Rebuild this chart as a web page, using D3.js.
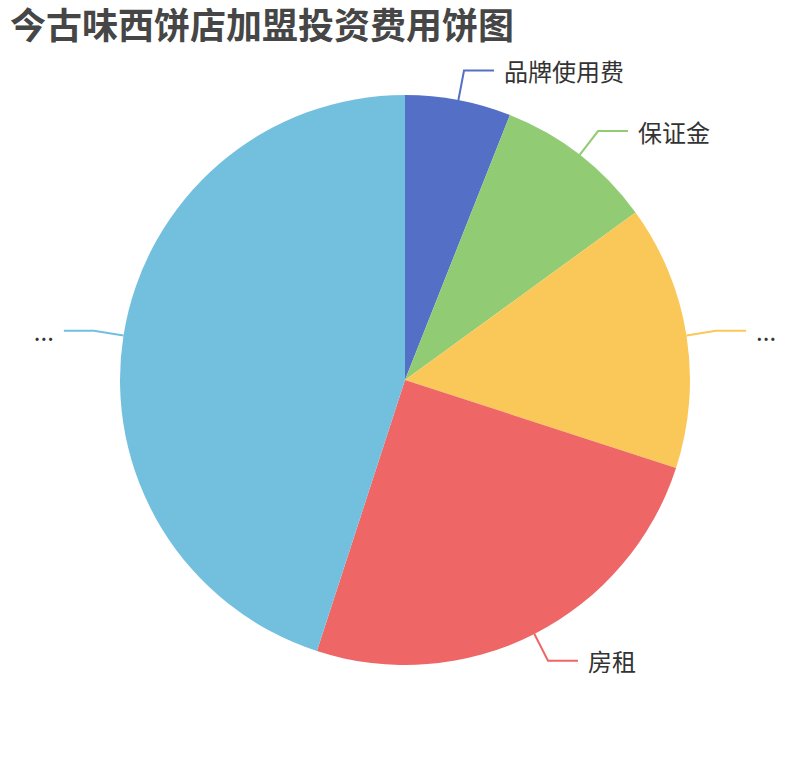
<!DOCTYPE html>
<html>
<meta charset="utf-8">
<head>
  <title>今古味西饼店加盟投资费用饼图</title>
</head>

<style>
body {
  margin: 0;
  background: #fff;
}
text {
  font-family: "Noto Sans CJK SC", "Noto Sans", sans-serif;
}
.title {
  font-size: 36px;
  font-weight: bold;
  fill: #464646;
}
.label {
  font-size: 24px;
  fill: #333;
}
</style>

<body>
  <div id="content">
    <svg width="810" height="760">
      <g class="slices"></g>
      <g class="lines"></g>
      <g class="labels"></g>
    </svg>
  </div>

  <script src="https://cdnjs.cloudflare.com/ajax/libs/d3/7.8.5/d3.min.js"></script>

  <script>
var width = 810, height = 760
var radius = Math.min(width, height) / 2 * 0.75

// data (shares of the total)
var categories = ['品牌使用费', '保证金', '...', '房租', '...']
var values = [6, 9, 15, 25, 45]
var colors = ['#5470c6', '#91cc75', '#fac858', '#ee6666', '#73c0de']

var data = categories.map(function(c, i) {
  return {name: c, value: values[i], color: colors[i]}
})

var svg = d3.select('svg')

svg.append('text')
  .attr('class', 'title')
  .attr('x', 10)
  .attr('y', 39)
  .text('今古味西饼店加盟投资费用饼图')

var pie = d3.pie()
  .sort(null)
  .value(function(d) { return d.value })

var arc = d3.arc().innerRadius(0).outerRadius(radius)

var arcs = pie(data)

var cx = width / 2, cy = height / 2

svg.select('.slices')
  .attr('transform', 'translate(' + cx + ',' + cy + ')')
  .selectAll('path')
  .data(arcs)
  .enter()
  .append('path')
  .attr('d', arc)
  .attr('fill', function(d) { return d.data.color })

var len1 = 30, len2 = 30, gap = 10

function midAngle(d) {
  return (d.startAngle + d.endAngle) / 2
}

function pointAt(a, r) {
  return [cx + r * Math.sin(a), cy - r * Math.cos(a)]
}

svg.select('.lines')
  .selectAll('polyline')
  .data(arcs)
  .enter()
  .append('polyline')
  .attr('fill', 'none')
  .attr('stroke-width', 2)
  .attr('stroke', function(d) { return d.data.color })
  .attr('points', function(d) {
    var a = midAngle(d)
    var p1 = pointAt(a, radius)
    var p2 = pointAt(a, radius + len1)
    var dir = Math.sin(a) >= 0 ? 1 : -1
    var p3 = [p2[0] + dir * len2, p2[1]]
    return [p1, p2, p3].map(function(p) { return p.join(',') }).join(' ')
  })

svg.select('.labels')
  .selectAll('text')
  .data(arcs)
  .enter()
  .append('text')
  .attr('class', 'label')
  .attr('dominant-baseline', 'central')
  .attr('text-anchor', function(d) {
    return Math.sin(midAngle(d)) >= 0 ? 'start' : 'end'
  })
  .attr('x', function(d) {
    var a = midAngle(d)
    var dir = Math.sin(a) >= 0 ? 1 : -1
    return pointAt(a, radius + len1)[0] + dir * (len2 + gap)
  })
  .attr('y', function(d) {
    return pointAt(midAngle(d), radius + len1)[1]
  })
  .text(function(d) { return d.data.name })

  </script>
</body>
</html>
